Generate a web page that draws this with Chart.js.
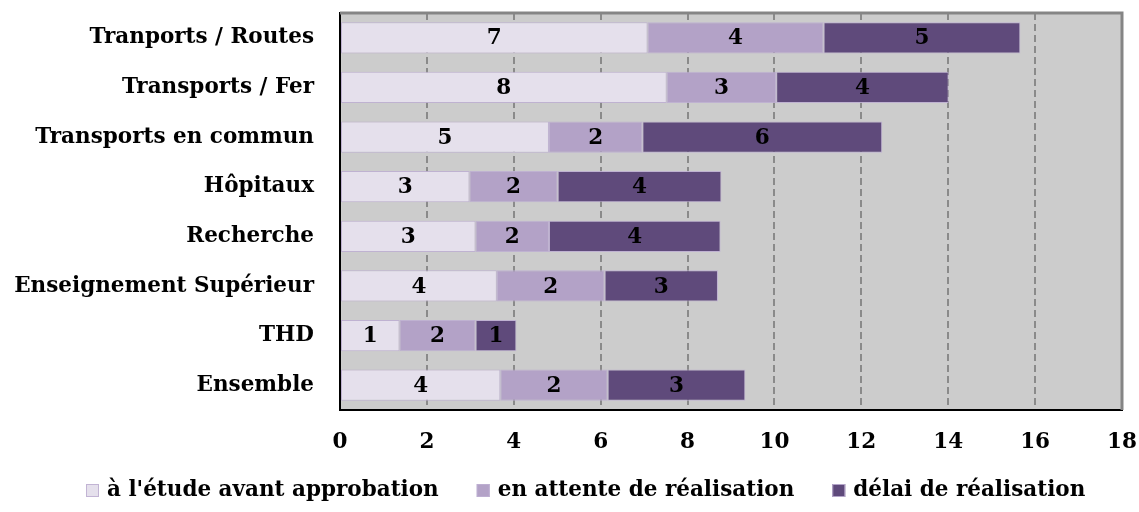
<!DOCTYPE html>
<html lang="fr">
<head>
<meta charset="UTF-8">
<title>Délais des projets</title>
<script src="https://cdn.jsdelivr.net/npm/chart.js"></script>
<style>
  html, body { margin: 0; padding: 0; background: #ffffff; }
  #chartBox { width: 1139px; height: 512px; }
</style>
</head>
<body>
<div id="chartBox">
  <canvas id="delaisChart" width="1139" height="512"></canvas>
</div>
<script>
// categories (top to bottom) and the three stacked durations
const categories = ['Tranports / Routes', 'Transports / Fer', 'Transports en commun', 'Hôpitaux',
                    'Recherche', 'Enseignement Supérieur', 'THD', 'Ensemble'];
const seriesNames = ["à l'étude avant approbation", 'en attente de réalisation', 'délai de réalisation'];
const etude = [7.08, 7.52, 4.81, 2.98, 3.12, 3.61, 1.37, 3.69];
const attente = [4.05, 2.52, 2.15, 2.03, 1.69, 2.48, 1.75, 2.47];
const delai = [4.53, 3.97, 5.52, 3.77, 3.95, 2.61, 0.94, 3.17];
const xTicks = [0, 2, 4, 6, 8, 10, 12, 14, 16, 18];

const fillColors = ['#e5e0ec', '#b3a2c7', '#5f4a7b'];
const serif = "'DejaVu Serif', serif";
const fontSize = 21.5;

// grey plot background
const plotBackground = {
  id: 'plotBackground',
  beforeDraw(chart) {
    const { ctx, chartArea: a } = chart;
    ctx.save();
    ctx.fillStyle = '#cccccc';
    ctx.fillRect(a.left, a.top, a.right - a.left, a.bottom - a.top);
    ctx.restore();
  }
};

// rounded value in the middle of each segment, top/right frame, legend row
const annotations = {
  id: 'annotations',
  afterDatasetsDraw(chart) {
    const { ctx, chartArea: a } = chart;
    ctx.save();
    ctx.strokeStyle = '#858585';
    ctx.lineWidth = 3;
    ctx.beginPath();
    ctx.moveTo(a.left, a.top);
    ctx.lineTo(a.right, a.top);
    ctx.lineTo(a.right, a.bottom);
    ctx.stroke();

    ctx.fillStyle = '#000';
    ctx.font = 'bold ' + fontSize + 'px ' + serif;
    ctx.textAlign = 'center';
    ctx.textBaseline = 'middle';
    chart.data.datasets.forEach((ds, i) => {
      chart.getDatasetMeta(i).data.forEach((bar, j) => {
        ctx.fillText(String(Math.round(ds.data[j])), (bar.x + bar.base) / 2, bar.y + 1);
      });
    });
    ctx.restore();
  },
  afterDraw(chart) {
    const { ctx } = chart;
    ctx.save();
    ctx.font = 'bold ' + fontSize + 'px ' + serif;
    ctx.textAlign = 'left';
    ctx.textBaseline = 'middle';
    const y = 490;
    let x = 86;
    chart.data.datasets.forEach((ds, i) => {
      ctx.fillStyle = ds.backgroundColor;
      ctx.fillRect(x, y - 6, 13, 13);
      ctx.strokeStyle = 'rgba(190, 175, 210, 0.9)';
      ctx.lineWidth = 1;
      ctx.strokeRect(x + 0.5, y - 5.5, 12, 12);
      ctx.fillStyle = '#000';
      ctx.fillText(ds.label, x + 21, y);
      x += 21 + ctx.measureText(ds.label).width + 38;
    });
    ctx.restore();
  }
};

// keep the edge tick labels from shrinking the plot area
const noEdgePadding = axis => {
  axis.paddingLeft = 0;
  axis.paddingRight = 0;
  axis.paddingTop = 0;
  axis.paddingBottom = 0;
};

const ctx = document.getElementById('delaisChart').getContext('2d');
new Chart(ctx, {
  type: 'bar',
  data: {
    labels: categories,
    datasets: [etude, attente, delai].map((values, i) => ({
      label: seriesNames[i],
      data: values,
      backgroundColor: fillColors[i],
      borderColor: 'rgba(190, 175, 210, 0.9)',
      borderWidth: 1,
      borderSkipped: false,
      categoryPercentage: 1,
      barPercentage: 0.63
    }))
  },
  options: {
    responsive: false,
    animation: false,
    indexAxis: 'y',
    layout: { padding: { left: 0, right: 17, top: 13, bottom: 44 } },
    scales: {
      x: {
        stacked: true,
        min: 0,
        max: 18,
        afterBuildTicks: axis => { axis.ticks = xTicks.map(v => ({ value: v })); },
        afterFit: axis => { axis.height = 58; noEdgePadding(axis); },
        grid: { color: '#8a8a8a', lineWidth: 2, drawTicks: false },
        border: { color: '#000', width: 2, dash: [7, 4] },
        ticks: { color: '#000', padding: 20, font: { family: serif, size: fontSize, weight: 'bold' } }
      },
      y: {
        stacked: true,
        afterFit: axis => { axis.width = 340; noEdgePadding(axis); },
        grid: { display: false, drawTicks: false },
        border: { color: '#000', width: 2 },
        ticks: { color: '#000', padding: 26, font: { family: serif, size: fontSize, weight: 'bold' } }
      }
    },
    plugins: {
      tooltip: { enabled: false },
      legend: { display: false }
    }
  },
  plugins: [plotBackground, annotations]
});
</script>
</body>
</html>
